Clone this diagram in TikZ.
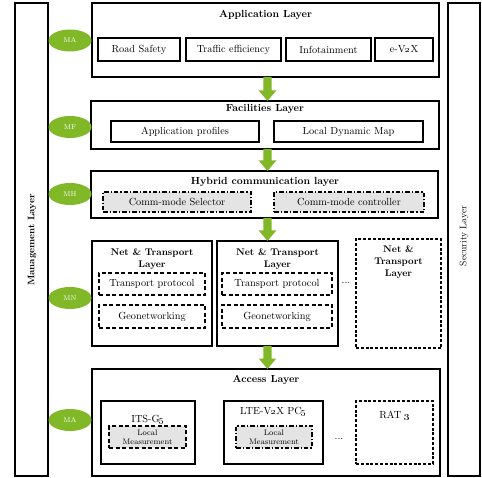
\documentclass[tikz,border=0pt]{standalone}
\usetikzlibrary{calc,shapes.geometric}
\definecolor{grn}{RGB}{128,184,40}
\definecolor{lgray}{RGB}{228,228,228}
\tikzset{
 layer/.style={draw, line width=1.1pt, inner sep=0pt, outer sep=0pt},
 sub/.style={draw, line width=1.2pt, inner sep=0pt, outer sep=0pt, font=\fontsize{10.3}{12}\selectfont},
 dsub/.style={sub, dash pattern=on 4pt off 2.5pt},
 ddsub/.style={sub, fill=lgray, dash pattern=on 4.5pt off 2pt on 1.2pt off 2pt},
 mell/.style={ellipse, fill=grn, minimum width=43pt, minimum height=22pt, inner sep=0pt, text=white, font=\fontsize{7}{8}\selectfont},
 ttl/.style={font=\bfseries\fontsize{10.3}{12}\selectfont, align=center, inner sep=0pt},
 nttl/.style={font=\bfseries\fontsize{9.7}{12}\selectfont, align=center, inner sep=0pt},
 lbl/.style={font=\fontsize{10.3}{12}\selectfont, inner sep=0pt},
 small/.style={font=\fontsize{8}{9.5}\selectfont, align=center},
}
\newcommand\grarrow[2]{\fill[grn] let \p1=(#1), \p2=(#2) in (263.3pt,\y1) -- (271.7pt,\y1) -- (271.7pt,\y2+10.5pt) -- (276.3pt,\y2+10.5pt) -- (267.5pt,\y2) -- (258.7pt,\y2+10.5pt) -- (263.3pt,\y2+10.5pt) -- cycle;}
\begin{document}
\begin{tikzpicture}[x=1pt,y=-1pt]
\useasboundingbox (0,0) rectangle (482,478);
% side layers
\node[layer, minimum width=33pt, minimum height=473pt] (mgmt) at (31.5,239.5) {};
\node[rotate=90, font=\bfseries\fontsize{9.5}{11}\selectfont] (mgmtT) at (32,240) {Management Layer};
\node[layer, minimum width=32pt, minimum height=473pt] (sec) at (464,239.5) {};
\node[rotate=90, font=\fontsize{9.5}{11}\selectfont] (secT) at (464,236) {Security Layer};
% application layer
\node[layer, minimum width=347pt, minimum height=74pt] (app) at (265.5,40) {};
\node[ttl] (appT) at (265.5,15) {Application Layer};
\node[sub, minimum width=82pt, minimum height=23pt] (rs) at (139,49.5) {Road Safety};
\node[sub, minimum width=95pt, minimum height=23pt] (te) at (233.5,49.5) {Traffic efficiency};
\node[sub, minimum width=85pt, minimum height=23pt] (inf) at (328.5,49.5) {Infotainment};
\node[sub, minimum width=58pt, minimum height=23pt] (ev) at (404,49.5) {e-V\oldstylenums{2}X};
\node[mell] (ma1) at (70,40.5) {MA};
% facilities
\node[layer, minimum width=348pt, minimum height=48pt] (fac) at (265,125) {};
\node[ttl] (facT) at (265,109) {Facilities Layer};
\node[sub, minimum width=148pt, minimum height=21pt] (ap) at (185,131.5) {Application profiles};
\node[sub, minimum width=149pt, minimum height=21pt] (ldm) at (348.5,131.5) {Local Dynamic Map};
\node[mell] (mf) at (70,127) {MF};
% hybrid
\node[layer, minimum width=347pt, minimum height=47pt] (hyb) at (264.5,194.5) {};
\node[ttl] (hybT) at (265,182) {Hybrid communication layer};
\node[ddsub, minimum width=148pt, minimum height=20pt] (cms) at (177,202) {Comm-mode Selector};
\node[ddsub, minimum width=150pt, minimum height=20pt] (cmc) at (349,202) {Comm-mode controller};
\node[mell] (mh) at (70,194) {MH};
% net & transport
\node[layer, minimum width=120pt, minimum height=105pt] (net1) at (152,293.5) {};
\node[nttl] (net1T) at (152,259) {Net \& Transport\\Layer};
\node[dsub, minimum width=106pt, minimum height=22pt] (tp1) at (152,284) {Transport protocol};
\node[dsub, minimum width=106pt, minimum height=23pt] (geo1) at (152,316.5) {Geonetworking};
\node[layer, minimum width=121pt, minimum height=105pt] (net2) at (277.5,293.5) {};
\node[nttl] (net2T) at (277.5,259) {Net \& Transport\\Layer};
\node[dsub, minimum width=110pt, minimum height=22pt] (tp2) at (277,284) {Transport protocol};
\node[dsub, minimum width=110pt, minimum height=23pt] (geo2) at (277,316.5) {Geonetworking};
\node[layer, dash pattern=on 3pt off 1.8pt, line width=1.2pt, minimum width=85pt, minimum height=109pt] (net3) at (398.5,293.5) {};
\node[nttl] (net3T) at (398.5,262) {Net \&\\Transport\\Layer};
\node[lbl] (dots1) at (346,283) {...};
\node[mell] (mn) at (70,298) {MN};
% access
\node[layer, minimum width=348pt, minimum height=107pt] (acc) at (266,422.5) {};
\node[ttl] (accT) at (266,380) {Access Layer};
\node[sub, minimum width=94pt, minimum height=63pt] (its) at (148,432.5) {};
\node[lbl] (itsT) at (148,420) {ITS-G\oldstylenums{5}};
\node[dsub, fill=lgray, minimum width=77pt, minimum height=22pt] (lm1) at (147.5,437) {};
\node[small] (lm1T) at (147.5,437.5) {Local\\Measurement};
\node[sub, minimum width=99pt, minimum height=63pt] (lte) at (273.5,432.5) {};
\node[lbl] (lteT) at (273.5,412) {LTE-V\oldstylenums{2}X PC\oldstylenums{5}};
\node[ddsub, minimum width=76pt, minimum height=22pt] (lm2) at (274,437) {};
\node[small] (lm2T) at (274,437.5) {Local\\Measurement};
\node[lbl] (dots2) at (339,439) {...};
\node[sub, dash pattern=on 3pt off 1.8pt, minimum width=77pt, minimum height=63pt] (rat) at (394.5,432.5) {};
\node[lbl] (ratT) at (394.5,416) {RAT \oldstylenums{3}};
\node[mell] (ma2) at (70,420) {MA};
% arrows
\grarrow{app.south}{fac.north}
\grarrow{fac.south}{hyb.north}
\grarrow{hyb.south}{net2.north}
\grarrow{net2.south}{acc.north}
\end{tikzpicture}
\end{document}
